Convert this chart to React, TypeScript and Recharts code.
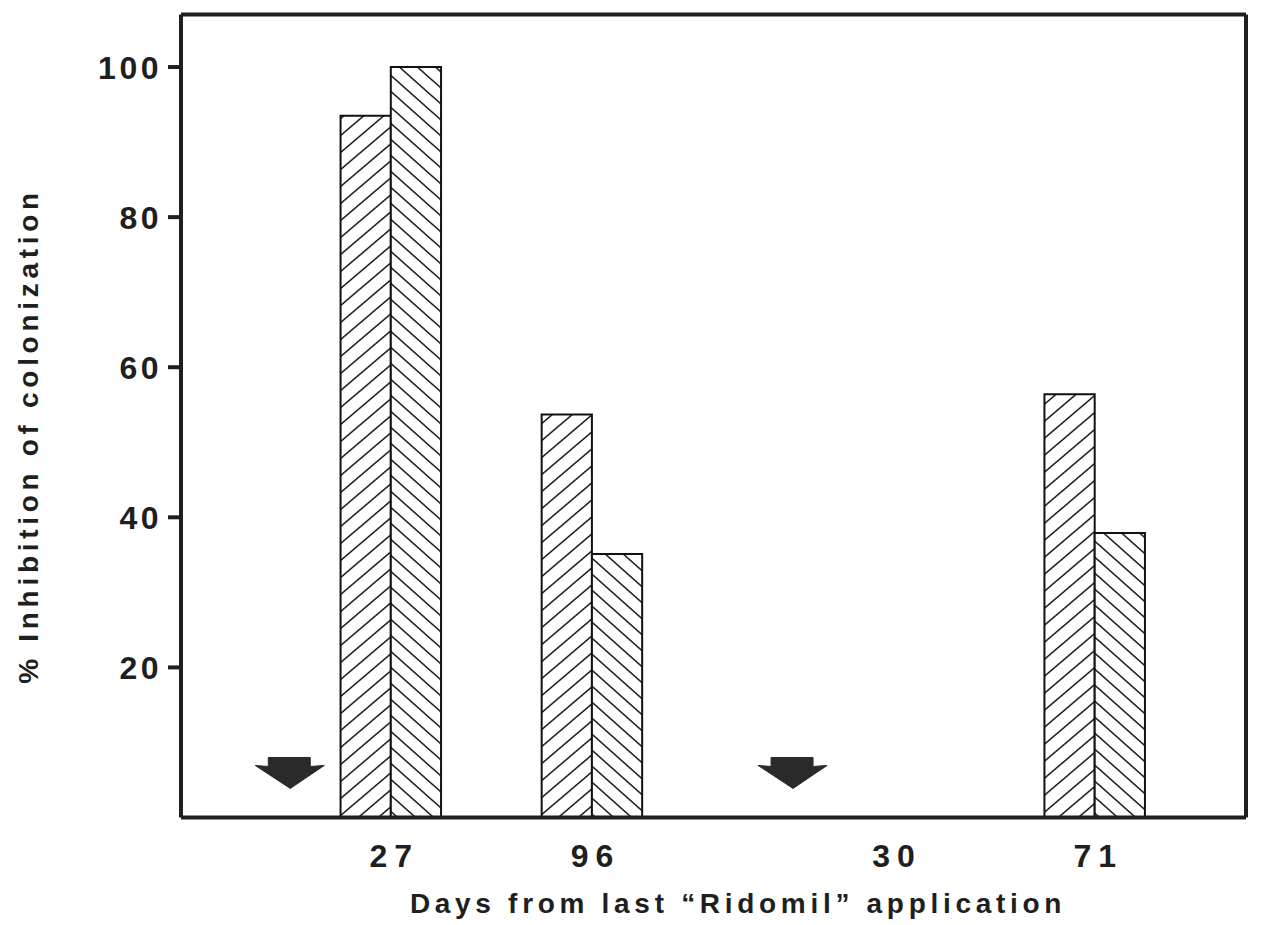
import React from 'react';
import { ComposedChart, Bar, Scatter, XAxis, YAxis, Label } from 'recharts';

// Category slots along the x axis (arrows and empty slots included)
const categories = ['arrow1', 'd27', 'gap1', 'd96', 'gap2', 'arrow2', 'd30', 'gap3', 'd71'];
const tickLabels = ['', '27', '', '96', '', '', '30', '', '71'];
const seriesA = [null, 93.5, null, 53.7, null, null, null, null, 56.4];
const seriesB = [null, 100, null, 35.1, null, null, null, null, 37.9];
const arrowMarks = [8, null, null, null, null, 8, null, null, null];
const yTicks = [20, 40, 60, 80, 100];
const yDomain = [0, 107];

const data = categories.map((c, i) => ({
  cat: c,
  a: seriesA[i],
  b: seriesB[i],
  arrow: arrowMarks[i],
  frame: 0,
}));

const FONT = '"Liberation Sans", Arial, Helvetica, sans-serif';
const INK = '#1f1f1f';

const YTick = (props: any) => {
  const { x, y, payload } = props;
  return (
    <text x={x} y={y} dy={11.5} textAnchor="end" fontFamily={FONT} fontWeight="bold" fontSize={32} letterSpacing={3.5} fill={INK}>
      {payload.value}
    </text>
  );
};

const XTick = (props: any) => {
  const { x, y, payload } = props;
  const idx = categories.indexOf(payload.value);
  const label = idx >= 0 ? tickLabels[idx] : '';
  if (!label) return null;
  return (
    <text x={x} y={y} dx={3.5} dy={49.5} textAnchor="middle" fontFamily={FONT} fontWeight="bold" fontSize={32} letterSpacing={7} fill={INK}>
      {label}
    </text>
  );
};

const ArrowShape = (props: any) => {
  const { cx, cy } = props;
  if (cx == null || cy == null || Number.isNaN(cx) || Number.isNaN(cy)) return null;
  const t = cy;
  const pts = [
    [cx - 22, t],
    [cx + 20, t],
    [cx + 20, t + 9],
    [cx + 34, t + 8],
    [cx, t + 31],
    [cx - 35, t + 8],
    [cx - 22, t + 9],
  ]
    .map((p) => p.join(','))
    .join(' ');
  return <polygon points={pts} fill="#2a2a2a" stroke="#2a2a2a" strokeWidth={1} />;
};

const XLabel = (props: any) => {
  const vb = props.viewBox || {};
  const cx = vb.x + vb.width / 2 + 24.5;
  return (
    <text x={cx} y={vb.y + 95.5} textAnchor="middle" fontFamily={FONT} fontWeight="bold" fontSize={28} letterSpacing={4.7} fill={INK}>
      Days from last “Ridomil” application
    </text>
  );
};

const YLabel = (props: any) => {
  const vb = props.viewBox || {};
  const x = vb.x + 38;
  const y = vb.y + vb.height / 2 + 20;
  return (
    <text x={x} y={y} transform={`rotate(-90, ${x}, ${y})`} textAnchor="middle" fontFamily={FONT} fontWeight="bold" fontSize={28} letterSpacing={4.7} fill={INK}>
      % Inhibition of colonization
    </text>
  );
};

export default function App() {
  return (
    <div style={{ position: 'absolute', left: 0, top: 0, width: 1262, height: 925, background: '#fff' }}>
      <ComposedChart
        width={1262}
        height={925}
        data={data}
        margin={{ top: 13.5, right: 15, bottom: 0, left: 0 }}
        barGap={0}
      >
        <defs>
          <pattern id="hatchA" patternUnits="userSpaceOnUse" width={20} height={17}>
            <rect x={0} y={0} width={20} height={17} fill="#fff" />
            <path d="M0,17 L20,0 M-10,8.5 L10,-8.5 M10,25.5 L30,8.5" stroke="#222" strokeWidth={1.6} />
          </pattern>
          <pattern id="hatchB" patternUnits="userSpaceOnUse" width={18} height={16}>
            <rect x={0} y={0} width={18} height={16} fill="#fff" />
            <path d="M0,0 L18,16 M-9,8 L9,24 M9,-8 L27,8" stroke="#222" strokeWidth={1.6} />
          </pattern>
        </defs>
        <XAxis
          dataKey="cat"
          type="category"
          interval={0}
          padding={{ left: 59, right: 101 }}
          height={107.5}
          tickLine={false}
          tickSize={0}
          tickMargin={0}
          tick={<XTick />}
          axisLine={{ stroke: INK, strokeWidth: 4 }}
        >
          <Label content={<XLabel />} />
        </XAxis>
        <XAxis
          xAxisId="top"
          dataKey="cat"
          type="category"
          orientation="top"
          height={1}
          tick={false}
          tickLine={false}
          axisLine={{ stroke: INK, strokeWidth: 4 }}
        />
        <YAxis
          type="number"
          domain={yDomain}
          ticks={yTicks}
          width={181}
          tickSize={13}
          tickMargin={6}
          tickLine={{ stroke: INK, strokeWidth: 4 }}
          tick={<YTick />}
          axisLine={{ stroke: INK, strokeWidth: 4 }}
          allowDataOverflow
        >
          <Label content={<YLabel />} />
        </YAxis>
        <YAxis
          yAxisId="right"
          orientation="right"
          type="number"
          domain={yDomain}
          width={1}
          tick={false}
          tickLine={false}
          axisLine={{ stroke: INK, strokeWidth: 4 }}
        />
        <Bar dataKey="a" barSize={50.25} fill="url(#hatchA)" stroke="#111" strokeWidth={2} isAnimationActive={false} />
        <Bar dataKey="b" barSize={50.25} fill="url(#hatchB)" stroke="#111" strokeWidth={2} isAnimationActive={false} />
        <Scatter dataKey="arrow" shape={<ArrowShape />} isAnimationActive={false} />
        <Scatter dataKey="frame" xAxisId="top" yAxisId="right" shape={() => null} isAnimationActive={false} />
      </ComposedChart>
    </div>
  );
}
